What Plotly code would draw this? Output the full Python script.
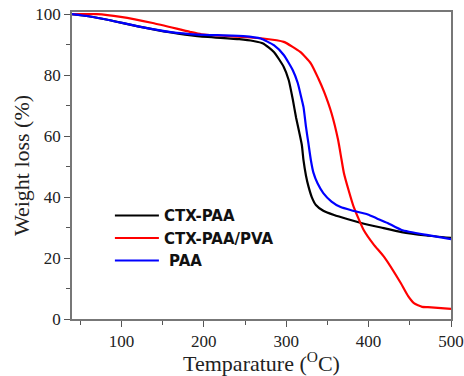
import plotly.graph_objects as go

# CTX-PAA (black)
ctx_paa_x = [40, 60, 86, 120, 160, 192, 243, 260, 272, 285, 297, 303, 308, 312, 316, 319, 321, 324, 327, 331, 336, 345, 358, 375, 391, 415, 440, 470, 500]
ctx_paa_y = [100, 99.3, 98, 96, 94, 92.8, 91.8, 91.2, 90.4, 87.6, 82.7, 78.4, 72, 66, 61, 57, 52, 47, 43.5, 40, 37.4, 35.5, 34.1, 32.7, 31.5, 30, 28.5, 27.4, 26.6]

# CTX-PAA/PVA (red)
ctx_pva_x = [40, 70, 99, 138, 183, 197, 241, 272, 297, 317, 330, 339, 346, 355, 363, 367, 370, 376, 382, 394, 406, 419, 439, 448, 455, 465, 472, 500]
ctx_pva_y = [100, 100, 99.1, 97.1, 94.2, 93.4, 92.6, 92, 90.9, 87.6, 83.8, 78.9, 74.5, 67.5, 58.7, 52.5, 47.9, 42, 36.7, 29.2, 24.5, 20.3, 11.8, 7.5, 5.2, 4, 3.9, 3.3]

# PAA (blue)
paa_x = [40, 60, 86, 120, 160, 192, 248, 269, 285, 297, 308, 314, 318, 321, 324, 327, 330, 333, 338, 345, 355, 366, 380, 399, 410, 423, 440, 472, 500]
paa_y = [100, 99.3, 98, 96, 94.1, 93.3, 92.8, 92, 89.8, 86.6, 81.6, 77.4, 73, 69.5, 63, 57.5, 52, 48, 44.5, 41.3, 38.5, 36.7, 35.6, 34.3, 33, 31.5, 29.2, 27.5, 26.2]

x_ticks = [100, 200, 300, 400, 500]
y_ticks = [0, 20, 40, 60, 80, 100]
x_minor = [50, 150, 250, 350, 450]
y_minor = [10, 30, 50, 70, 90]

fig = go.Figure()
fig.add_trace(go.Scatter(x=ctx_paa_x, y=ctx_paa_y, mode="lines", name="CTX-PAA",
                         line=dict(color="#000000", width=2.2, shape="spline", smoothing=0.5)))
fig.add_trace(go.Scatter(x=ctx_pva_x, y=ctx_pva_y, mode="lines", name="CTX-PAA/PVA",
                         line=dict(color="#ff0000", width=2.2, shape="spline", smoothing=0.5)))
fig.add_trace(go.Scatter(x=paa_x, y=paa_y, mode="lines", name="\u00a0PAA",
                         line=dict(color="#0000ff", width=2.2, shape="spline", smoothing=0.5)))

serif = "Liberation Serif, Times New Roman, serif"
fig.update_layout(
    width=464, height=376,
    margin=dict(l=72, r=13, t=12, b=57),
    paper_bgcolor="white", plot_bgcolor="white",
    showlegend=True,
    legend=dict(x=0.10, y=0.39, xanchor="left", yanchor="top",
                bgcolor="rgba(0,0,0,0)",
                font=dict(family="DejaVu Sans", size=15, color="#111", weight="bold"),
                tracegroupgap=0, itemwidth=44),
    xaxis=dict(range=[40, 500], tickvals=x_ticks, showgrid=False, zeroline=False, automargin=False,
               ticklabeloverflow="allow",
               showline=True, linecolor="#777", linewidth=1.5, mirror=True,
               ticks="outside", ticklen=6, tickcolor="#555", tickwidth=1.2,
               minor=dict(tickvals=x_minor, ticks="outside", ticklen=4, tickcolor="#555"),
               tickfont=dict(family=serif, size=17, color="#222"),
               title=dict(text="Temparature (<sup>O</sup>C)", font=dict(family=serif, size=22, color="#222"), standoff=4)),
    yaxis=dict(range=[0, 100.7], tickvals=y_ticks, showgrid=False, zeroline=False, automargin=False,
               ticklabeloverflow="allow",
               showline=True, linecolor="#777", linewidth=1.5, mirror=True,
               ticks="outside", ticklen=6, tickcolor="#555", tickwidth=1.2,
               minor=dict(tickvals=y_minor, ticks="outside", ticklen=4, tickcolor="#555"),
               tickfont=dict(family=serif, size=17, color="#222"),
               title=dict(text="Weight loss (%)", font=dict(family=serif, size=22, color="#222"), standoff=0)),
)
fig.write_html("out.html", config={"displayModeBar": False},
               post_script="document.body.style.margin='0';")
